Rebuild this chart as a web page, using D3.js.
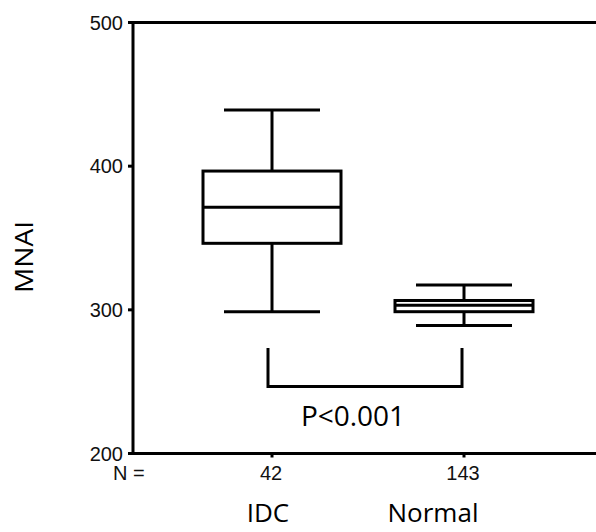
<!DOCTYPE html>
<html>
<head>
<meta charset="utf-8">
<script src="https://cdn.jsdelivr.net/npm/d3@7/dist/d3.min.js"></script>
<style>
  body { margin: 0; background: #fff; }
  svg { display: block; }
  .tick-label { font-family: "Liberation Sans", Arial, sans-serif; font-size: 20px; fill: #111; }
  .big-label { font-family: "Open Sans", sans-serif; font-size: 26px; fill: #000; }
</style>
</head>
<body>
<svg id="chart" width="596" height="532"></svg>
<script>
// box plot data
const groups = ["IDC", "Normal"];
const counts = [42, 143];
const whiskerLow = [298.7, 289.1];
const q1 = [346.3, 298.7];
const median = [371.4, 303.2];
const q3 = [396.6, 306.5];
const whiskerHigh = [439.1, 317.3];
const yTicks = [200, 300, 400, 500];
// significance bracket between the two groups
const bracketTop = 273.4;
const bracketBottom = 246.6;
const pLabel = "P<0.001";

const width = 596, height = 532;
const margin = {top: 22.5, left: 133, bottom: 453.5};
const svg = d3.select("#chart");

const y = d3.scaleLinear().domain([200, 500]).range([margin.bottom, margin.top]);
const x = d3.scalePoint().domain(groups).range([272, 464]);

const boxW = 138, capW = 96, lw = 3;

const data = groups.map((g, i) => ({
  g, n: counts[i], lo: whiskerLow[i], q1: q1[i], med: median[i], q3: q3[i], hi: whiskerHigh[i]
}));

// frame: left axis, top line, bottom axis (open on the right)
const frame = svg.append("g").attr("stroke", "#000").attr("stroke-width", lw).attr("fill", "none");
frame.append("line").attr("x1", margin.left).attr("x2", margin.left)
  .attr("y1", margin.top - lw / 2).attr("y2", margin.bottom + lw / 2);
frame.append("line").attr("x1", margin.left).attr("x2", width)
  .attr("y1", margin.top).attr("y2", margin.top);
frame.append("line").attr("x1", margin.left).attr("x2", width)
  .attr("y1", margin.bottom).attr("y2", margin.bottom);

// y ticks
const yAxis = svg.append("g");
yTicks.forEach(t => {
  yAxis.append("line").attr("stroke", "#000").attr("stroke-width", 3)
    .attr("x1", margin.left - 5).attr("x2", margin.left).attr("y1", y(t)).attr("y2", y(t));
  yAxis.append("text").attr("class", "tick-label")
    .attr("x", margin.left - 10).attr("y", y(t)).attr("dy", "0.36em")
    .attr("text-anchor", "end").text(t);
});

// x ticks + N counts
svg.append("text").attr("class", "tick-label").attr("x", 113).attr("y", 480).text("N =");
data.forEach(d => {
  svg.append("line").attr("stroke", "#000").attr("stroke-width", 3)
    .attr("x1", x(d.g)).attr("x2", x(d.g)).attr("y1", margin.bottom).attr("y2", margin.bottom + 4);
  svg.append("text").attr("class", "tick-label")
    .attr("x", x(d.g) - 1).attr("y", 480).attr("text-anchor", "middle").text(d.n);
});

// boxes
const boxes = svg.append("g").attr("stroke", "#000").attr("stroke-width", lw).attr("fill", "none")
  .selectAll("g").data(data).join("g");

boxes.append("line").attr("x1", d => x(d.g)).attr("x2", d => x(d.g))
  .attr("y1", d => y(d.hi)).attr("y2", d => y(d.q3));
boxes.append("line").attr("x1", d => x(d.g)).attr("x2", d => x(d.g))
  .attr("y1", d => y(d.q1)).attr("y2", d => y(d.lo));
boxes.append("line").attr("x1", d => x(d.g) - capW / 2).attr("x2", d => x(d.g) + capW / 2)
  .attr("y1", d => y(d.hi)).attr("y2", d => y(d.hi));
boxes.append("line").attr("x1", d => x(d.g) - capW / 2).attr("x2", d => x(d.g) + capW / 2)
  .attr("y1", d => y(d.lo)).attr("y2", d => y(d.lo));
boxes.append("rect").attr("fill", "#fff")
  .attr("x", d => x(d.g) - boxW / 2).attr("width", boxW)
  .attr("y", d => y(d.q3)).attr("height", d => y(d.q1) - y(d.q3));
boxes.append("line").attr("x1", d => x(d.g) - boxW / 2).attr("x2", d => x(d.g) + boxW / 2)
  .attr("y1", d => y(d.med)).attr("y2", d => y(d.med));

// significance bracket
const bx0 = x(groups[0]) - 4, bx1 = x(groups[1]) - 2;
svg.append("path").attr("fill", "none").attr("stroke", "#000").attr("stroke-width", lw)
  .attr("d", `M${bx0},${y(bracketTop)}V${y(bracketBottom)}H${bx1}V${y(bracketTop)}`);
svg.append("text").attr("class", "big-label").style("font-size", "28px")
  .attr("x", 353).attr("y", 426).attr("text-anchor", "middle").text(pLabel);

// category labels
const labelDx = [-4, -31];
groups.forEach((g, i) => {
  svg.append("text").attr("class", "big-label")
    .attr("x", x(g) + labelDx[i]).attr("y", 522).attr("text-anchor", "middle").text(g);
});

// y axis title
svg.append("text").attr("class", "big-label")
  .attr("transform", "translate(33,257) rotate(-90)")
  .attr("text-anchor", "middle")
  .attr("textLength", 72).attr("lengthAdjust", "spacingAndGlyphs")
  .text("MNAI");
</script>
</body>
</html>
